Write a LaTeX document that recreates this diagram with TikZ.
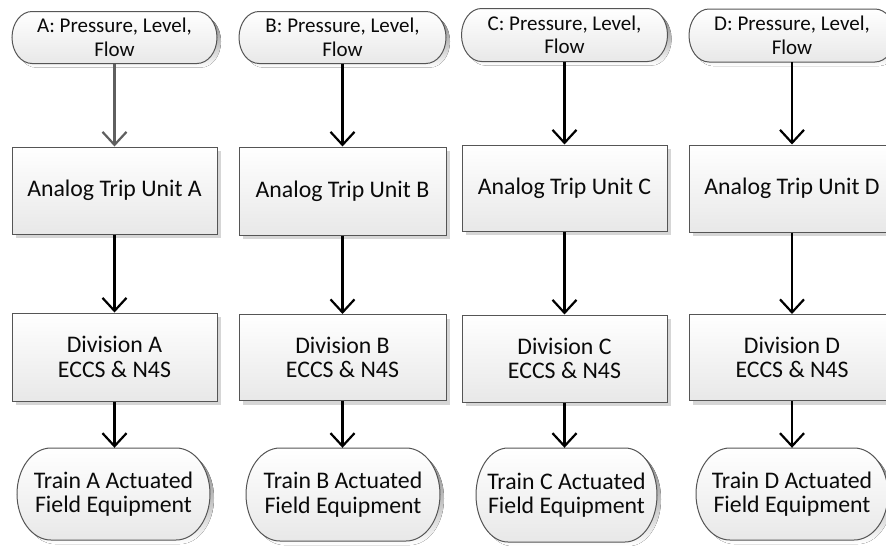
\documentclass[tikz,border=0pt]{standalone}
\usepackage{fontspec}
\setmainfont{Carlito}
\usetikzlibrary{arrows.meta,calc,shadows}

\definecolor{edge}{RGB}{85,85,85}
\definecolor{shade}{RGB}{214,214,214}
\definecolor{fillbot}{RGB}{232,232,232}
\definecolor{ink}{RGB}{10,10,10}
\definecolor{lead}{RGB}{95,95,95}

\tikzset{
  label text/.style={font=\fontsize{23.8}{24.5}\selectfont, text=ink, align=center, inner sep=0pt},
  procbox/.style={label text, rectangle, draw=edge, line width=1pt,
    top color=white, bottom color=fillbot,
    drop shadow={shadow xshift=4pt, shadow yshift=-4pt, fill=shade, opacity=1}},
  pilltext/.style={label text, rectangle},
  sourcetext/.style={pilltext, font=\fontsize{21}{23.5}\selectfont},
  conn/.style={line width=2.2pt, draw=black, -{Straight Barb[length=13pt,width=24pt]}},
}

% capsule outline with elliptical ends: centre x, centre y, half width, half height, end radius
\newcommand\pillpath[5]{(#1-#3+#5,#2-#4) -- (#1+#3-#5,#2-#4)
  arc[start angle=-90,end angle=90,x radius=#5,y radius=#4]
  -- (#1-#3+#5,#2+#4)
  arc[start angle=90,end angle=270,x radius=#5,y radius=#4] -- cycle}

% named capsule node: style, name, x, y, width, height, end radius, text
\newcommand\capsule[8]{%
  \fill[shade] \pillpath{#3+4}{#4+4}{#5/2}{#6/2}{#7};
  \shadedraw[top color=white,bottom color=fillbot,draw=edge,line width=1pt]
    \pillpath{#3}{#4}{#5/2}{#6/2}{#7};
  \node[#1, minimum width=#5pt, minimum height=#6pt] (#2) at (#3,#4) {#8};
}

\begin{document}
\begin{tikzpicture}[x=1pt,y=-1pt]
\useasboundingbox (0,0) rectangle (886,546);

% ---- Column A ----
\capsule{sourcetext}{tA}{114.5}{37.5}{205}{52}{20}{A: Pressure, Level,\\Flow}
\node[procbox, minimum width=205pt, minimum height=87pt] (aA) at (114.5,190.5) {Analog Trip Unit A};
\node[procbox, minimum width=205pt, minimum height=88pt] (dA) at (114.5,357) {Division A\\ECCS \& N4S};
\capsule{pilltext}{eA}{113.5}{494}{193}{92}{34}{Train A Actuated\\Field Equipment}

% ---- Column B ----
\capsule{sourcetext}{tB}{342.5}{37.5}{207}{52}{20}{B: Pressure, Level,\\Flow}
\node[procbox, minimum width=207pt, minimum height=88pt] (aB) at (342.5,191) {Analog Trip Unit B};
\node[procbox, minimum width=207pt, minimum height=86pt] (dB) at (342.5,357.5) {Division B\\ECCS \& N4S};
\capsule{pilltext}{eB}{343}{494.5}{194}{93}{34}{Train B Actuated\\Field Equipment}

% ---- Column C ----
\capsule{sourcetext}{tC}{564.5}{35}{206}{53}{20}{C: Pressure, Level,\\Flow}
\node[procbox, minimum width=205pt, minimum height=86pt] (aC) at (564.5,188) {Analog Trip Unit C};
\node[procbox, minimum width=205pt, minimum height=87pt] (dC) at (564.5,358.5) {Division C\\ECCS \& N4S};
\capsule{pilltext}{eC}{566.5}{495}{181}{94}{32}{Train C Actuated\\Field Equipment}

% ---- Column D ----
\capsule{sourcetext}{tD}{792}{35.5}{206}{53}{20}{D: Pressure, Level,\\Flow}
\node[procbox, minimum width=206pt, minimum height=87pt] (aD) at (792,188.5) {Analog Trip Unit D};
\node[procbox, minimum width=206pt, minimum height=86pt] (dD) at (792,357.5) {Division D\\ECCS \& N4S};
\capsule{pilltext}{eD}{792}{494}{192}{92}{34}{Train D Actuated\\Field Equipment}

% ---- Connectors ----
\draw[conn, draw=lead] (tA.south) -- (tA.south |- aA.north);
\draw[conn] (aA.south) -- (aA.south |- dA.north);
\draw[conn] (dA.south) -- (dA.south |- eA.north);

\draw[conn] (tB.south) -- (tB.south |- aB.north);
\draw[conn] (aB.south) -- (aB.south |- dB.north);
\draw[conn] (dB.south) -- (dB.south |- eB.north);

\draw[conn] (tC.south) -- (tC.south |- aC.north);
\draw[conn] (aC.south) -- (aC.south |- dC.north);
\draw[conn] (dC.south) -- (dC.south |- eC.north);

\draw[conn] (tD.south) -- (tD.south |- aD.north);
\draw[conn] (aD.south) -- (aD.south |- dD.north);
\draw[conn] (dD.south) -- (dD.south |- eD.north);
\end{tikzpicture}
\end{document}
